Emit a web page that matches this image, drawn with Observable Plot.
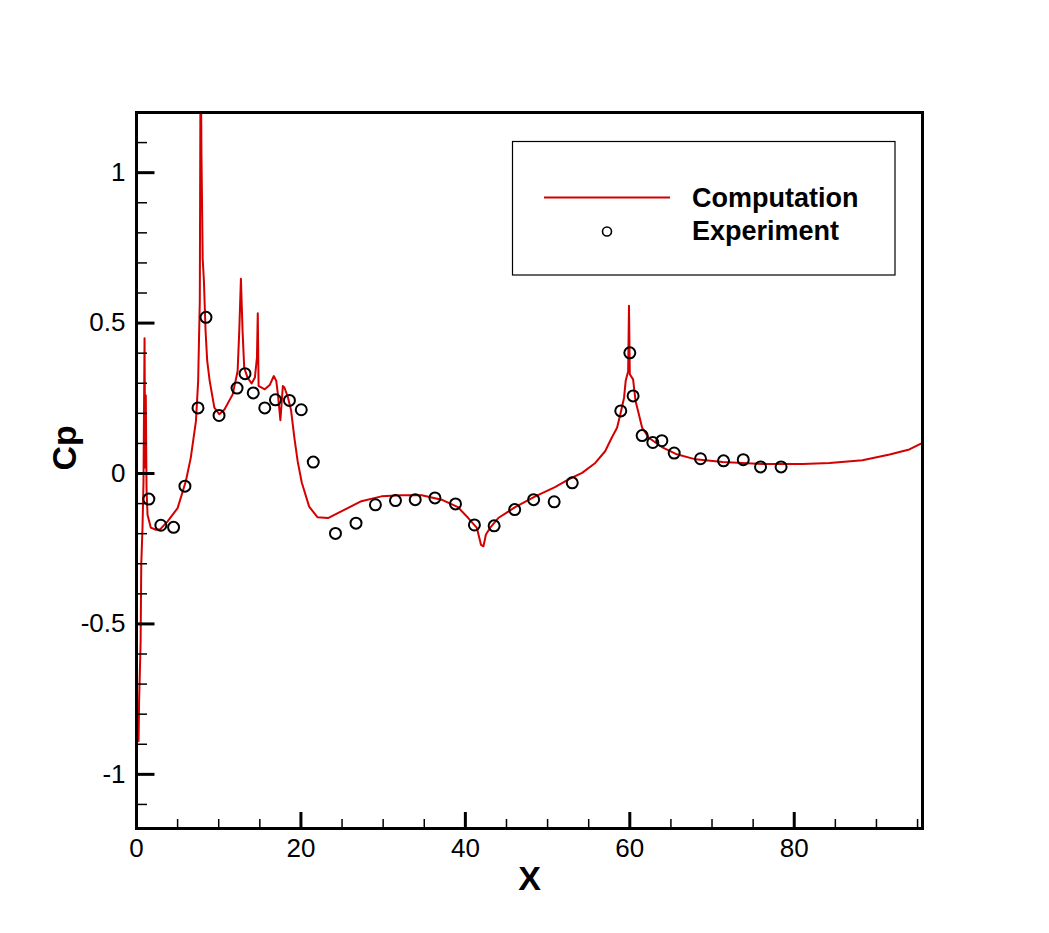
<!DOCTYPE html>
<html><head><meta charset="utf-8">
<script src="https://cdn.jsdelivr.net/npm/d3@7"></script>
<script src="https://cdn.jsdelivr.net/npm/@observablehq/plot@0.6"></script>
<style>html,body{margin:0;padding:0;background:#fff;} #chart svg{display:block;}</style>
</head><body><div id="chart"></div>
<script>
// Computation (red line)
const compX = [0.25,0.32,0.4,0.5,0.58,0.73,0.85,0.98,1.05,1.13,1.22,1.34,1.74,2.35,2.9,3.78,5.0,6.0,6.6,7.23,7.5,7.7,7.8,7.9,8.05,8.2,8.4,8.6,8.9,9.47,10.07,10.7,11.7,12.3,12.5,12.7,12.9,13.1,13.5,14.0,14.4,14.65,14.75,14.85,15.6,16.2,16.7,17.0,17.2,17.5,17.8,18.0,18.4,18.8,19.2,19.6,20.1,21.0,22.0,23.3,24.9,27.35,29.8,32.2,34.7,37.1,39.1,40.35,41.4,41.9,42.2,42.5,43.0,44.0,46.05,48.5,50.9,52.5,54.2,55.8,57.0,57.8,58.45,58.85,59.3,59.5,59.8,59.9,60.0,60.4,60.7,61.1,61.5,62.3,63.9,65.6,68.0,71.3,76.1,81.0,84.3,88.3,91.6,94.0,95.6];
const compY = [-0.89,-0.75,-0.67,-0.56,-0.3,-0.18,-0.03,0.45,0.02,0.26,-0.05,-0.137,-0.18,-0.187,-0.185,-0.159,-0.115,-0.026,0.052,0.174,0.308,0.574,1.5,1.064,0.714,0.64,0.474,0.374,0.308,0.219,0.197,0.213,0.263,0.341,0.474,0.647,0.474,0.352,0.319,0.299,0.319,0.385,0.533,0.291,0.28,0.294,0.324,0.308,0.263,0.177,0.291,0.285,0.255,0.21,0.119,0.041,-0.03,-0.11,-0.145,-0.148,-0.126,-0.092,-0.076,-0.072,-0.072,-0.087,-0.112,-0.148,-0.181,-0.237,-0.242,-0.203,-0.181,-0.148,-0.112,-0.076,-0.045,-0.02,0.002,0.035,0.074,0.119,0.152,0.197,0.252,0.308,0.34,0.558,0.33,0.313,0.241,0.197,0.152,0.119,0.088,0.065,0.047,0.038,0.032,0.032,0.035,0.044,0.063,0.08,0.102];

// Experiment (circles)
const expX = [1.5,2.96,4.51,5.89,7.48,8.45,10.04,12.23,13.2,14.2,15.6,16.9,18.6,20.04,21.5,24.2,26.7,29.06,31.5,33.9,36.3,38.8,41.1,43.5,46.0,48.3,50.8,53.0,58.9,60.0,60.4,61.5,62.8,63.9,65.4,68.6,71.4,73.8,75.9,78.4];
const expY = [-0.085,-0.172,-0.179,-0.042,0.218,0.519,0.193,0.284,0.332,0.268,0.218,0.245,0.243,0.212,0.038,-0.199,-0.165,-0.104,-0.09,-0.087,-0.081,-0.101,-0.171,-0.174,-0.12,-0.087,-0.094,-0.031,0.208,0.401,0.258,0.126,0.103,0.109,0.068,0.049,0.042,0.046,0.022,0.022];

const xMajorTicks = [0,20,40,60,80];
const xMinorTicks = [5,10,15,25,30,35,45,50,55,65,70,75,85,90,95];
const yMajorTicks = [-1,-0.5,0,0.5,1];
const yMinorTicks = [-1.1,-0.9,-0.8,-0.7,-0.6,-0.4,-0.3,-0.2,-0.1,0.1,0.2,0.3,0.4,0.6,0.7,0.8,0.9,1.1];
const xDomain = [0, 95.6];
const yDomain = [-1.18, 1.2];
const seriesNames = ["Computation", "Experiment"];
const axisTitles = {x: "X", y: "Cp"};

const comp = compX.map((x, i) => ({x, y: compY[i]}));
const exp = expX.map((x, i) => ({x, y: expY[i]}));

const FONT = "'Liberation Sans', Arial, Helvetica, sans-serif";

const chart = Plot.plot({
  width: 1049,
  height: 933,
  marginLeft: 136,
  marginRight: 127,
  marginTop: 112,
  marginBottom: 105,
  style: {fontFamily: FONT, background: "#fff", overflow: "visible"},
  x: {domain: xDomain},
  y: {domain: yDomain},
  marks: [
    Plot.line(comp, {x: "x", y: "y", stroke: "#d40000", strokeWidth: 2, clip: true}),
    Plot.dot(exp, {x: "x", y: "y", r: 5.5, stroke: "black", strokeWidth: 2, fill: "none"}),
    // minor ticks (inward)
    Plot.axisX(xMinorTicks, {tickSize: -9, strokeWidth: 1.5, fill: "none", label: null}),
    Plot.axisY(yMinorTicks, {tickSize: -11, strokeWidth: 1.5, fill: "none", label: null}),
    // major ticks (inward)
    Plot.axisX(xMajorTicks, {tickSize: -16, strokeWidth: 3, fill: "none", label: null}),
    Plot.axisY(yMajorTicks, {tickSize: -18.5, strokeWidth: 3, fill: "none", label: null}),
    // tick labels
    Plot.axisX(xMajorTicks, {tickSize: 0, tickPadding: 10, fontSize: 26, fill: "black", label: null, tickFormat: d => String(d)}),
    Plot.axisY(yMajorTicks, {tickSize: 0, tickPadding: 11, fontSize: 26, fill: "black", label: null, tickFormat: d => String(d)}),
    Plot.frame({stroke: "black", strokeWidth: 3}),
    Plot.text([axisTitles.x], {frameAnchor: "bottom", dy: 51, fontSize: 34, fontWeight: "bold", fill: "black", lineAnchor: "middle"}),
    Plot.text([axisTitles.y], {frameAnchor: "left", dx: -71, rotate: -90, fontSize: 34, fontWeight: "bold", fill: "black", lineAnchor: "middle"})
  ]
});
document.getElementById("chart").appendChild(chart);

// Legend inside the plot area
const svg = d3.select(chart);
const lg = svg.append("g").attr("font-family", FONT).attr("text-anchor", "start");
lg.append("rect").attr("x", 512.5).attr("y", 141.5).attr("width", 382.5).attr("height", 133.5)
  .attr("fill", "white").attr("stroke", "black").attr("stroke-width", 1.2);
lg.append("line").attr("x1", 544).attr("x2", 670).attr("y1", 197.5).attr("y2", 197.5)
  .attr("stroke", "#d40000").attr("stroke-width", 2);
lg.append("circle").attr("cx", 607).attr("cy", 231.5).attr("r", 4.5)
  .attr("fill", "none").attr("stroke", "black").attr("stroke-width", 1.6);
lg.append("text").attr("x", 692).attr("y", 206.5).attr("font-size", 27).attr("font-weight", "bold").attr("fill", "black").attr("text-anchor", "start").text(seriesNames[0]);
lg.append("text").attr("x", 692).attr("y", 240).attr("font-size", 27).attr("font-weight", "bold").attr("fill", "black").attr("text-anchor", "start").text(seriesNames[1]);
</script>
</body></html>
